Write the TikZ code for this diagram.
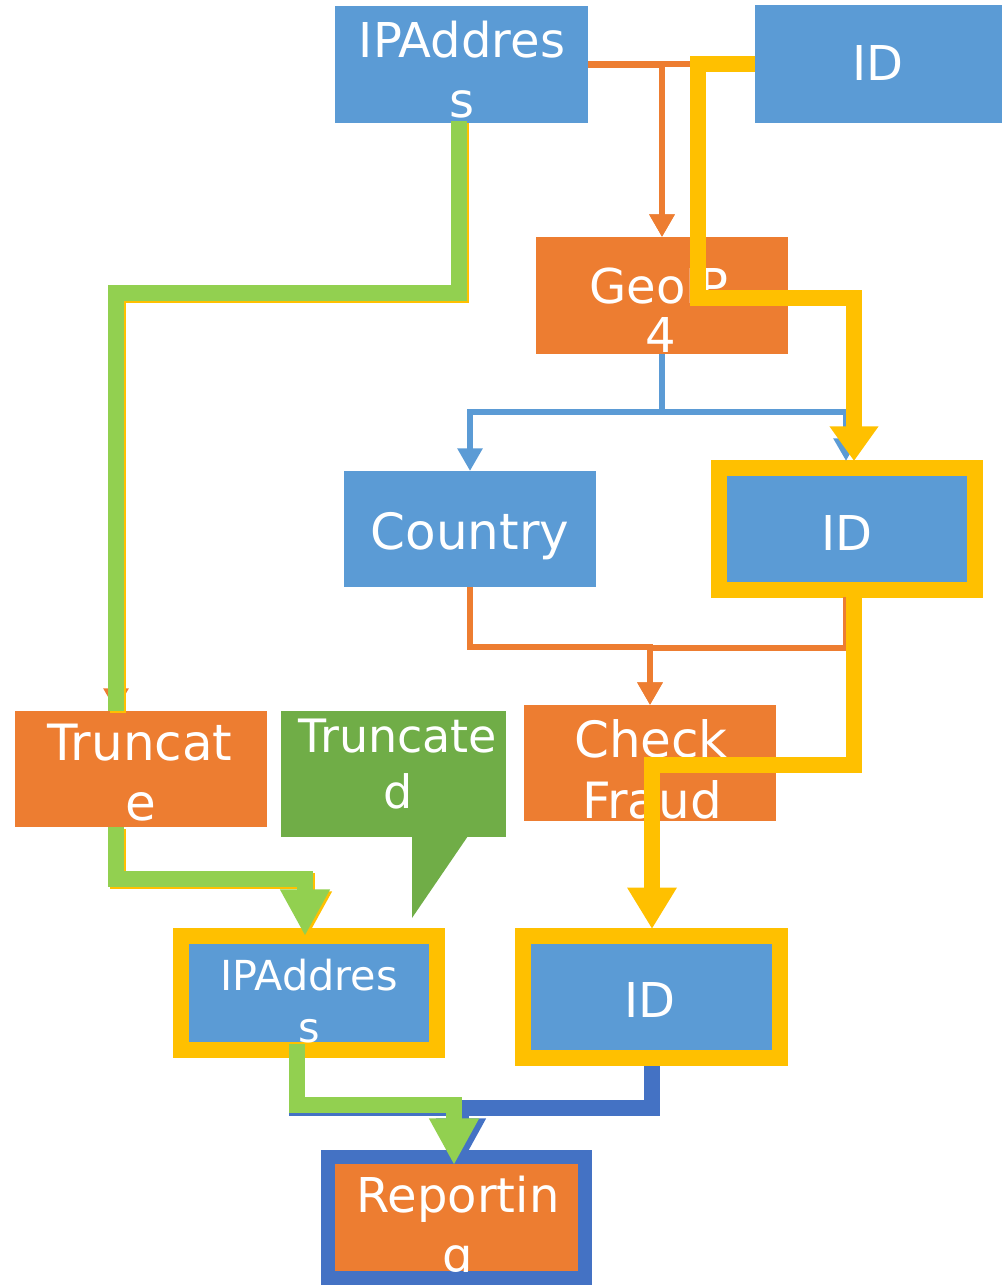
\documentclass[tikz,border=0pt]{standalone}
\usepackage{fontspec}
\setmainfont{DejaVu Sans}
\usetikzlibrary{arrows.meta,fit}
\definecolor{cBlue}{HTML}{5B9BD5}
\definecolor{cOrange}{HTML}{ED7D31}
\definecolor{cGold}{HTML}{FFC000}
\definecolor{cLime}{HTML}{92D050}
\definecolor{cGreen}{HTML}{70AD47}
\definecolor{cNavy}{HTML}{4472C4}

\begin{document}
\begin{tikzpicture}[x=0.75pt,y=-0.75pt,
  box/.style={inner sep=0pt, outer sep=0pt},
  lbl/.style={text=white, anchor=base, inner sep=0pt, font=\fontsize{36pt}{40pt}\selectfont},
  lblwide/.style={lbl, font=\fontsize{37.5pt}{41pt}\selectfont},
  lblsmall/.style={lbl, font=\fontsize{31pt}{34pt}\selectfont},
  lblcall/.style={lbl, font=\fontsize{34.5pt}{38pt}\selectfont},
  wire/.style={line width=5pt},
  heavy/.style={line width=11.5pt},
  smalltip/.style={-{Triangle[width=18pt,length=17pt]}},
  bigtip/.style={-{Triangle[width=35pt,length=#1]}},
  line join=miter]
\useasboundingbox (0,0) rectangle (1002,1285);

% boxes
\node[box, fill=cBlue, fit={(335,6)(588,123)}] (ipTop) {};
\node[box, fill=cBlue, fit={(755,5)(1002,123)}] (idTop) {};
\node[box, fill=cOrange, fit={(536,237)(788,354)}] (geo) {};
\node[box, fill=cBlue, fit={(344,471)(596,587)}] (country) {};
\node[box, fill=cBlue, draw=cGold, line width=12pt, fit={(719,468)(975,590)}] (dataset) {};
\node[box, fill=cOrange, fit={(15,711)(267,827)}] (truncate) {};
\node[box, fill=cGreen, fit={(281,711)(506,837)}] (callout) {};
\fill[cGreen] (412,836) -- (468,836) -- (412,918) -- cycle;
\node[box, fill=cOrange, fit={(524,705)(776,821)}] (check) {};
\node[box, fill=cBlue, draw=cGold, line width=12pt, fit={(181,936)(437,1050)}] (ipBot) {};
\node[box, fill=cBlue, draw=cGold, line width=12pt, fit={(523,936)(780,1058)}] (idBot) {};
\node[box, fill=cOrange, draw=cNavy, line width=11pt, fit={(328,1157)(585,1278)}] (report) {};

% labels
\node[lbl] (tIpTopA) at (462,57) {IPAddres};
\node[lbl] (tIpTopB) at (462,117) {s};
\node[lbl] (tIdTop) at (878,80) {ID};
\node[lbl] (tGeoA) at (659,303) {GeoIP};
\node[lbl] (tGeoB) at (661,352) {4};
\node[lblwide] (tCountry) at (470,549) {Country};
\node[lbl] (tDataset) at (847,550) {ID};
\node[lblwide] (tTruncA) at (140,760) {Truncat};
\node[lblwide] (tTruncB) at (141,820) {e};
\node[lblcall] (tCallA) at (398,752) {Truncate};
\node[lblcall] (tCallB) at (398,808) {d};
\node[lblwide] (tCheckA) at (651,757) {Check};
\node[lblwide] (tCheckB) at (652,818) {Fraud};
\node[lblsmall] (tIpBotA) at (309,990) {IPAddres};
\node[lblsmall] (tIpBotB) at (309,1042) {s};
\node[lbl] (tIdBot) at (650,1017) {ID};
\begin{scope}
  \clip (336,1165) rectangle (577,1271);
  \node[lbl] (tRepA) at (458,1212) {Reportin};
  \node[lbl] (tRepB) at (458,1272) {g};
\end{scope}

% connector end points
\coordinate (gA) at (459,121);
\coordinate (tIn) at (116,711);
\coordinate (tOut) at (116,827);
\coordinate (ibIn) at (305,936);
\coordinate (ibOut) at (297,1044);
\coordinate (rIn) at (454,1165);
\coordinate (rIn2) at (461,1165);
\coordinate (dIn) at (854,461);
\coordinate (dIn2) at (846,461);
\coordinate (dOut) at (854,597);
\coordinate (dOut2) at (846,597);
\coordinate (iIn) at (652,929);
\coordinate (idOut) at (652,1066);

% thin connectors
\draw[cOrange, wire, smalltip] (ipTop.east) -| (geo.north);
\draw[cOrange, wire, smalltip] (idTop.west) -| (geo.north);
\draw[cBlue, wire, smalltip] (geo.south) -- ++(0,58) -| (country.north);
\draw[cBlue, wire, smalltip] (geo.south) -- ++(0,58) -| (dIn2);
\draw[cOrange, wire, smalltip] (country.south) -- ++(0,60) -| (check.north);
\draw[cOrange, wire, smalltip] (dOut2) -- ++(0,51) -| (check.north);
\draw[cOrange, wire, smalltip] (gA) -- ++(0,172) -| (tIn);

% truncation flow
\draw[cGold, heavy, transform canvas={xshift=1.5pt,yshift=-1.5pt}] (gA) -- ++(0,172) -| (tIn);
\draw[cLime, heavy] (gA) -- ++(0,172) -| (tIn);
\draw[cGold, heavy, bigtip=35pt, transform canvas={xshift=1.5pt,yshift=-1.5pt}] (tOut) -- ++(0,52) -| (ibIn);
\draw[cLime, heavy, bigtip=35pt] (tOut) -- ++(0,52) -| (ibIn);

% ID flow
\draw[cGold, heavy, bigtip=26pt] (idTop.west) -| (698,298) -| (dIn);
\draw[cGold, heavy, bigtip=31pt] (dOut) -- ++(0,168) -| (iIn);

% reporting inputs
\draw[cNavy, heavy, bigtip=35pt] (idOut) -- ++(0,42) -| (rIn2);
\draw[cNavy, heavy, transform canvas={yshift=-2.5pt}] (ibOut) -- ++(0,61) -- (454,1105);
\draw[cLime, heavy, bigtip=35pt] (ibOut) -- ++(0,61) -| (rIn);
\end{tikzpicture}
\end{document}
